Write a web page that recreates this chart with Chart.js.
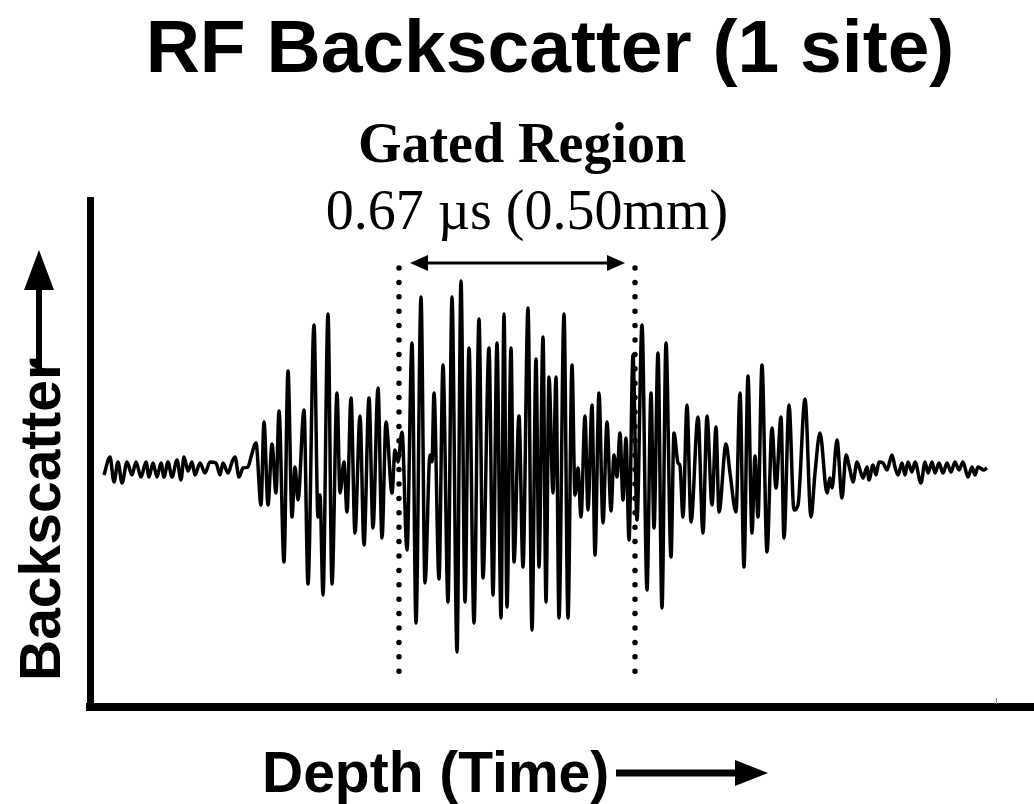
<!DOCTYPE html>
<html>
<head>
<meta charset="utf-8">
<script src="https://cdn.jsdelivr.net/npm/chart.js"></script>
<style>
  body { margin: 0; background: #fff; }
  #wrap { position: relative; width: 1034px; height: 804px; overflow: hidden; }
  #rf { position: absolute; left: 0; top: 0; }
  .lbl { position: absolute; white-space: nowrap; line-height: 1; color: #000; }
  .sans { font-family: "Liberation Sans", Arial, Helvetica, sans-serif; font-weight: bold; }
  .serif { font-family: "Liberation Serif", "Times New Roman", serif; }
</style>
</head>
<body>
<div id="wrap">
  <canvas id="rf" width="1034" height="804"></canvas>
  <div class="lbl sans" style="left:550px;top:9px;font-size:75px;transform:translateX(-50%)">RF Backscatter (1 site)</div>
  <div class="lbl serif" style="left:522px;top:115px;font-size:56px;font-weight:bold;transform:translateX(-50%)">Gated Region</div>
  <div class="lbl serif" style="left:527px;top:182px;font-size:56px;transform:translateX(-50%)">0.67 µs (0.50mm)</div>
  <div class="lbl sans" style="left:262px;top:744px;font-size:57px">Depth (Time)</div>
  <div class="lbl sans" style="left:12px;top:681px;font-size:57px;transform-origin:0 0;transform:rotate(-90deg)">Backscatter</div>
</div>
<script>
  // RF trace: depth in samples, backscatter amplitude (arbitrary units, 0 = baseline)
  const depth = [
    4, 10, 14, 18, 22, 27, 32, 36, 41, 46, 49, 53, 57, 61, 64, 68, 72, 77, 81, 84,
    88, 92, 95, 100, 105, 110, 116, 120, 123, 128, 132, 135, 139, 143, 148, 151,
    156, 161, 164, 168, 172, 176, 179, 184, 188, 192, 195, 198, 204, 208, 214, 218,
    220, 223, 228, 232, 237, 240, 244, 247, 251, 255, 260, 264, 269, 273, 278, 282,
    286, 292, 295, 298, 302, 307, 312, 316, 321, 325, 330, 332, 334, 339, 343, 348,
    352, 357, 361, 365, 369, 374, 379, 383, 389, 393, 397, 401, 404, 407, 411, 414,
    419, 423, 428, 432, 436, 439, 443, 446, 449, 453, 456, 459, 464, 468, 472, 475,
    478, 481, 485, 488, 492, 495, 499, 503, 507, 511, 514, 517, 520, 523, 526, 529,
    533, 537, 542, 547, 551, 554, 558, 562, 566, 571, 574, 578, 580, 583, 587, 591,
    598, 603, 607, 612, 616, 619, 626, 630, 636, 640, 644, 648, 652, 655, 658, 662,
    667, 672, 676, 681, 684, 689, 694, 698, 705, 711, 715, 720, 727, 730, 732, 737,
    742, 746, 750, 753, 757, 760, 763, 767, 769, 773, 776, 779, 783, 787, 792, 795,
    798, 802, 805, 808, 812, 815, 821, 825, 828, 832, 835, 839, 843, 847, 851, 855,
    859, 863, 868, 872, 875, 878, 884, 887
  ];
  const backscatter = [
    -8, 10, -15, 5, -16, 5, -8, 5, -10, 5, -10, 4, -10, 4, -10, 5, -10, 7, -13, 10,
    -4, 5, -8, 4, -6, 5, 4, -8, 4, -6, 5, 10, -10, -1, 0, 10,
    24, -38, 45, -38, 23, -26, 56, -95, 96, -50, 0, -33, 57, -117, 142, -50,
    -28, -128, 153, -117, 74, -26, 5, -45, 69, -66, 51, -78, 69, -61, 79, -71,
    45, -26, 17, 5, 35, -83, 124, -156, 170, -116, 12, 5, 74, -112, 102, -135,
    170, -185, 186, -135, 119, -156, 148, -111, 119, -128, 124, -151, 153, -140, 119, -95,
    51, -100, 159, -163, 108, -100, 130, -135, 90, -26, 90, -151, 153, -151, 102, -28,
    -1, -50, 51, -43, 62, -88, 74, -56, 45, -44, 12, -10, 34, -33, 29, -73,
    112, -53, 142, -123, 74, -61, 114, -141, 124, -90, 34, 4, 1, -50, 62, -55,
    50, -66, 51, -38, 40, -45, 23, -6, -45, 74, -100, 91, -66, 11, -50, 102,
    -85, 39, -21, 50, -71, 62, -43, -38, 68, -50, -6, 34, -26, -11, -21, 27,
    -31, 12, -3, -15, 5, -3, -11, 0, -13, 2, -8, 5, 4, -3, 12, 0,
    -8, 4, -8, 5, -5, 5, -16, 5, -6, 5, -6, 4, -6, 4, -5, 5,
    -3, 5, -10, 0, -8, 0, -3, -1
  ];

  // gated region (dotted markers) and its span arrow
  const gateStart = 299;
  const gateEnd = 535;
  const gateTop = 199;
  const gateBottom = -210;
  const spanFrom = 310;
  const spanTo = 525;
  const spanLevel = 204;
  const axisEndTick = 896;

  const trace = depth.map((t, i) => ({ x: t, y: backscatter[i] }));

  function tri(ctx, ax, ay, bx, by, cx, cy) {
    ctx.beginPath();
    ctx.moveTo(ax, ay);
    ctx.lineTo(bx, by);
    ctx.lineTo(cx, cy);
    ctx.closePath();
    ctx.fill();
  }

  const overlay = {
    id: 'overlay',
    afterDatasetsDraw(chart) {
      const { ctx, scales: { x, y } } = chart;
      ctx.save();
      ctx.fillStyle = '#000';
      ctx.strokeStyle = '#000';

      // double arrow over the gate
      const yy = y.getPixelForValue(spanLevel);
      const x1 = x.getPixelForValue(spanFrom);
      const x2 = x.getPixelForValue(spanTo);
      ctx.lineWidth = 3;
      ctx.beginPath();
      ctx.moveTo(x1 + 10, yy);
      ctx.lineTo(x2 - 10, yy);
      ctx.stroke();
      tri(ctx, x1, yy, x1 + 18, yy - 8, x1 + 18, yy + 8);
      tri(ctx, x2, yy, x2 - 18, yy - 8, x2 - 18, yy + 8);

      // arrows next to the axis labels
      ctx.lineWidth = 6;
      ctx.beginPath();
      ctx.moveTo(39, 370);
      ctx.lineTo(39, 282);
      ctx.stroke();
      tri(ctx, 39, 250, 24, 290, 54, 290);

      ctx.lineWidth = 7;
      ctx.beginPath();
      ctx.moveTo(616, 773);
      ctx.lineTo(740, 773);
      ctx.stroke();
      tri(ctx, 768, 773, 735, 760, 735, 786);

      // little tick at the end of the depth axis
      const tx = x.getPixelForValue(axisEndTick);
      ctx.strokeStyle = '#888';
      ctx.lineWidth = 1;
      ctx.beginPath();
      ctx.moveTo(tx + 0.5, y.bottom - 9);
      ctx.lineTo(tx + 0.5, y.bottom - 3);
      ctx.stroke();
      ctx.restore();
    }
  };

  const dotted = {
    borderColor: '#000',
    borderWidth: 5.5,
    borderDash: [0, 14.4],
    borderCapStyle: 'round',
    pointRadius: 0,
    fill: false
  };

  new Chart(document.getElementById('rf'), {
    type: 'line',
    data: {
      datasets: [
        {
          data: trace,
          borderColor: '#000',
          borderWidth: 3.5,
          pointRadius: 0,
          cubicInterpolationMode: 'monotone',
          fill: false
        },
        Object.assign({ data: [{ x: gateStart, y: gateTop }, { x: gateStart, y: gateBottom }] }, dotted),
        Object.assign({ data: [{ x: gateEnd, y: gateTop }, { x: gateEnd, y: gateBottom }] }, dotted)
      ]
    },
    options: {
      responsive: false,
      animation: false,
      devicePixelRatio: 1,
      layout: { autoPadding: false, padding: { left: 90, top: 200, right: 0, bottom: 97 } },
      scales: {
        x: {
          type: 'linear',
          min: -10,
          max: 934,
          grid: { display: false, drawTicks: false },
          ticks: { display: false },
          border: { display: true, color: '#000', width: 8 }
        },
        y: {
          type: 'linear',
          min: -240,
          max: 267,
          grid: { display: false, drawTicks: false },
          ticks: { display: false },
          border: { display: true, color: '#000', width: 7 }
        }
      },
      plugins: {
        legend: { display: false },
        tooltip: { enabled: false }
      }
    },
    plugins: [overlay]
  });
</script>
</body>
</html>
